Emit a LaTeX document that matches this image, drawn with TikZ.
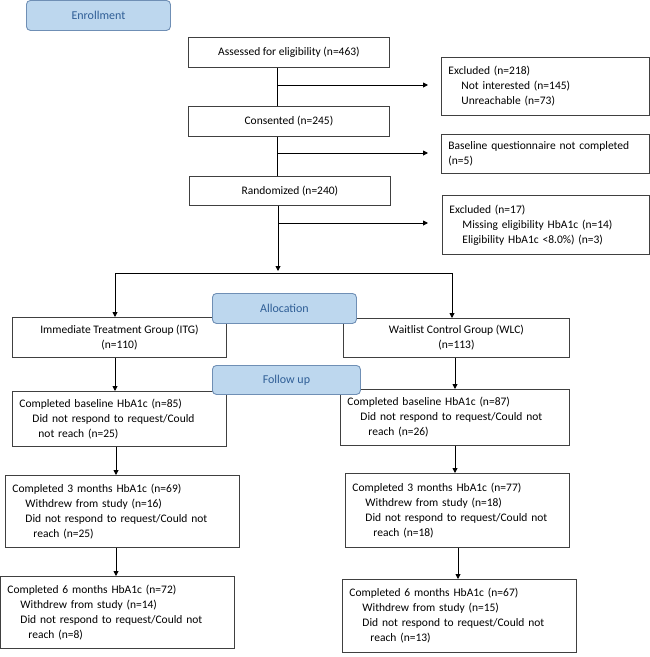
\documentclass[tikz,border=0pt]{standalone}
\usepackage{fontspec}
\setmainfont{Carlito}
\usetikzlibrary{arrows.meta}
\definecolor{phasefill}{HTML}{BDD7EE}
\definecolor{phaseline}{HTML}{6F8FB5}
\definecolor{phasetext}{HTML}{2F5E96}
\begin{document}
\begin{tikzpicture}[x=1pt,y=-1pt,
  box/.style={draw=black!75,line width=0.9pt,anchor=north west,inner xsep=7pt,inner ysep=2pt,font=\fontsize{11.5}{15}\selectfont,align=left},
  cbox/.style={box,align=center},
  phase/.style={draw=phaseline,fill=phasefill,line width=0.9pt,rounded corners=4pt,anchor=north west,font=\fontsize{12}{14}\selectfont,text=phasetext},
  arr/.style={-{Triangle[length=5pt,width=5pt]},line width=0.9pt},
  ln/.style={line width=0.9pt}]
\useasboundingbox (0,0) rectangle (650,657);
\def\I{\hspace*{13pt}}
\node[phase,minimum width=144pt,minimum height=30pt] (enr) at (26,0) {Enrollment};
\node[cbox,minimum width=201pt,minimum height=30pt] (ass) at (188,37) {Assessed for eligibility (n=463)};
\node[box,text width=194pt,minimum height=58pt] (ex1) at (441,57) {Excluded (n=218)\\\I Not interested (n=145)\\\I Unreachable (n=73)};
\node[cbox,minimum width=201pt,minimum height=30pt] (con) at (188,106) {Consented (n=245)};
\node[box,text width=194pt,minimum height=39pt] (ex2) at (441,134) {Baseline questionnaire not completed\\(n=5)};
\node[cbox,minimum width=201pt,minimum height=29pt] (ran) at (189,176) {Randomized (n=240)};
\node[box,text width=193pt,minimum height=59pt] (ex3) at (442,195) {Excluded (n=17)\\\I Missing eligibility HbA1c (n=14)\\\I Eligibility HbA1c <8.0\%) (n=3)};
\node[cbox,minimum width=214pt,minimum height=40pt] (itg) at (12,317) {Immediate Treatment Group (ITG)\\(n=110)};
\node[cbox,minimum width=226pt,minimum height=39pt] (wlc) at (343,318) {Waitlist Control Group (WLC)\\(n=113)};
\node[phase,minimum width=144pt,minimum height=30pt] (alloc) at (212,293) {Allocation};
\node[box,text width=200pt,minimum height=55pt] (b1) at (12,391) {Completed baseline HbA1c (n=85)\\\I Did not respond to request/Could\\\hspace*{19pt}not reach (n=25)};
\node[box,text width=215pt,minimum height=56pt] (b2) at (340,389) {Completed baseline HbA1c (n=87)\\\I Did not respond to request/Could not\\\hspace*{21pt}reach (n=26)};
\node[phase,minimum width=148pt,minimum height=29pt] (fu) at (212,365) {Follow up};
\node[box,text width=220pt,minimum height=72pt] (t1) at (5,475) {Completed 3 months HbA1c (n=69)\\\I Withdrew from study (n=16)\\\I Did not respond to request/Could not\\\hspace*{21pt}reach (n=25)};
\node[box,text width=210pt,minimum height=74pt] (t2) at (345,473) {Completed 3 months HbA1c (n=77)\\\I Withdrew from study (n=18)\\\I Did not respond to request/Could not\\\hspace*{21pt}reach (n=18)};
\node[box,text width=220pt,minimum height=72pt] (s1) at (0,576) {Completed 6 months HbA1c (n=72)\\\I Withdrew from study (n=14)\\\I Did not respond to request/Could not\\\hspace*{21pt}reach (n=8)};
\node[box,text width=220pt,minimum height=73pt] (s2) at (342,579) {Completed 6 months HbA1c (n=67)\\\I Withdrew from study (n=15)\\\I Did not respond to request/Could not\\\hspace*{21pt}reach (n=13)};
% connectors
\coordinate (j1) at (277,85); \coordinate (e1) at (428,85);
\coordinate (j2) at (277,153); \coordinate (e2) at (428,153);
\coordinate (j3) at (278,223); \coordinate (e3) at (428,223);
\coordinate (sp) at (278,271);
\coordinate (sl) at (115,273); \coordinate (sr) at (452,273);
\draw[ln] (ass.south -| j1) -- (con.north -| j1);
\draw[ln] (con.south -| j2) -- (ran.north -| j2);
\draw[arr] (j1) -- (e1);
\draw[arr] (j2) -- (e2);
\draw[arr] (ran.south -| sp) -- (sp);
\draw[arr] (j3) -- (e3);
\draw[ln] (sl) -- (sr);
\draw[arr] (sl) -- (itg.north -| sl);
\draw[arr] (sr) -- (wlc.north -| sr);
\draw[arr] (itg.south -| 115,0) -- (b1.north -| 115,0);
\draw[arr] (wlc.south -| 455,0) -- (b2.north -| 455,0);
\draw[arr] (b1.south -| 116,0) -- (t1.north -| 116,0);
\draw[arr] (b2.south -| 455,0) -- (t2.north -| 455,0);
\draw[arr] (t1.south -| 116,0) -- (s1.north -| 116,0);
\draw[arr] (t2.south -| 458,0) -- (s2.north -| 458,0);
\end{tikzpicture}
\end{document}
